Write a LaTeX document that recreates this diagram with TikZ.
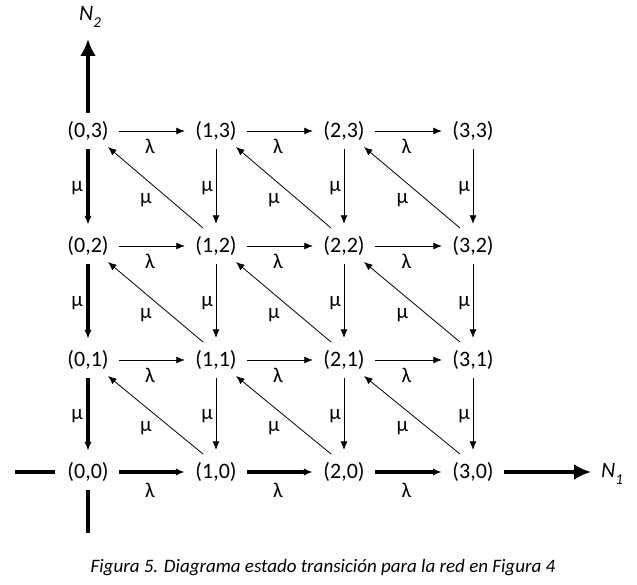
\documentclass[tikz,border=0pt]{standalone}
\usepackage{fontspec}
\setmainfont{Carlito}
\usetikzlibrary{arrows.meta,calc}
\begin{document}
\begin{tikzpicture}[x=1pt,y=-1pt,
  state/.style={font=\fontsize{22}{26}\selectfont, minimum width=62pt, minimum height=36pt, inner sep=0pt},
  lbl/.style={font=\fontsize{21}{25}\selectfont, inner sep=0pt},
  thinarr/.style={line width=0.8pt, -{Latex[length=8.5pt,width=7pt]}},
  thickarr/.style={line width=3.2pt, -{Latex[length=9pt,width=7.5pt]}},
  axisline/.style={line width=3.8pt},
  axisarr/.style={line width=3.8pt, -{Latex[length=17pt,width=16pt]}}]
\useasboundingbox (0,0) rectangle (637,585);
% states
\foreach \i/\x in {0/88,1/216,2/344,3/473}{
  \foreach \j/\y in {0/472,1/360,2/246,3/131}{
    \node[state] (r\i\j) at (\x,\y) {(\i,\j)};
  }
}
% horizontal arrows (lambda)
\foreach \j in {1,2,3}{
  \foreach \i/\k in {0/1,1/2,2/3}{
    \draw[thinarr] (r\i\j.east) -- (r\k\j.west);
    \node[lbl] at ($(r\i\j)!0.5!(r\k\j)+(-2,15)$) {λ};
  }
}
\foreach \i/\k in {0/1,1/2,2/3}{
  \draw[thickarr] (r\i0.east) -- (r\k0.west);
  \node[lbl] at ($(r\i0)!0.5!(r\k0)+(-2,18)$) {λ};
}
% vertical arrows (mu)
\foreach \i in {1,2,3}{
  \foreach \j/\k in {3/2,2/1,1/0}{
    \draw[thinarr, shorten >=4pt] (r\i\j.south) -- (r\i\k.north);
    \node[lbl, anchor=east] at ($(r\i\j)!0.5!(r\i\k)+(-3,0)$) {μ};
  }
}
\foreach \j/\k in {3/2,2/1,1/0}{
  \draw[thickarr, shorten >=3pt] (r0\j.south) -- (r0\k.north);
  \node[lbl, anchor=east] at ($(r0\j)!0.5!(r0\k)+(-5,0)$) {μ};
}
% diagonal arrows (mu)
\foreach \i/\h in {1/0,2/1,3/2}{
  \foreach \j/\k in {2/3,1/2,0/1}{
    \draw[thinarr] ($(r\i\j)+(-13,-18)$) -- ($(r\h\k)+(20,16)$);
    \node[lbl] at ($(r\i\j)!0.5!(r\h\k)+(-6,12)$) {μ};
  }
}
% axes
\coordinate (Lend) at (15,472);
\coordinate (Bend) at (88,533);
\coordinate (Tend) at (88,39);
\coordinate (Rend) at (591,472);
\draw[axisline] (Lend) -- ($(r00.west)+(-2,0)$);
\draw[axisline] (r00.south) -- (Bend);
\draw[axisarr] (r03.north) -- (Tend);
\draw[axisarr] (r30.east) -- (Rend);
\node[font=\fontsize{22}{26}\selectfont\itshape, inner sep=0pt] (N2) at (90,17) {N\raisebox{-0.28em}{\fontsize{15}{15}\selectfont 2}};
\node[font=\fontsize{22}{26}\selectfont\itshape, inner sep=0pt] (N1) at (612,474) {N\raisebox{-0.28em}{\fontsize{15}{15}\selectfont 1}};
% caption
\node[font=\fontsize{19}{23}\selectfont\itshape, inner sep=0pt] (cap) at (323,568) {Figura 5. Diagrama estado transición para la red en Figura 4};
\end{tikzpicture}
\end{document}
